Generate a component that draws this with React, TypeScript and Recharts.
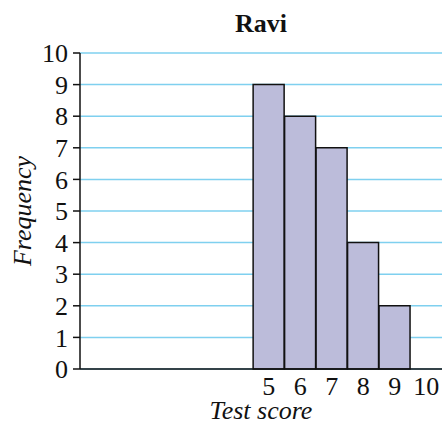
import { BarChart, Bar, XAxis, YAxis, CartesianGrid, Label } from 'recharts';

const scores = [5, 6, 7, 8, 9];
const frequencies = [9, 8, 7, 4, 2];
const xTicks = [5, 6, 7, 8, 9, 10];
const yTicks = [0, 1, 2, 3, 4, 5, 6, 7, 8, 9, 10];
const title = 'Ravi';
const xTitle = 'Test score';
const yTitle = 'Frequency';

const data = scores.map((score, i) => ({ score, frequency: frequencies[i] }));

const FONT = '"Liberation Serif", "Times New Roman", serif';
const tickStyle = { fontFamily: FONT, fontSize: 26, fill: '#111' };

function YLabel(props: any) {
  const vb = props.viewBox || {};
  const x = vb.x + 22;
  const y = vb.y + vb.height / 2;
  return (
    <text
      x={x}
      y={y}
      transform={`rotate(-90, ${x}, ${y})`}
      textAnchor="middle"
      dominantBaseline="central"
      fontFamily={FONT}
      fontSize={26}
      fontStyle="italic"
      fill="#111"
    >
      {yTitle}
    </text>
  );
}

function XLabel(props: any) {
  const vb = props.viewBox || {};
  return (
    <text
      x={vb.x + vb.width / 2}
      y={vb.y + 50}
      textAnchor="middle"
      fontFamily={FONT}
      fontSize={26}
      fontStyle="italic"
      fill="#111"
    >
      {xTitle}
    </text>
  );
}

export default function App() {
  return (
    <div style={{ position: 'relative', width: 442, height: 426, background: '#fff' }}>
      <style>{'body{margin:0}'}</style>
      <div
        style={{
          position: 'absolute',
          left: 80,
          width: 362,
          top: 9,
          textAlign: 'center',
          fontFamily: FONT,
          fontWeight: 'bold',
          fontSize: 26,
          lineHeight: 'normal',
          color: '#111',
        }}
      >
        {title}
      </div>
      <BarChart
        width={442}
        height={426}
        data={data}
        margin={{ top: 53, right: 0, left: 0, bottom: 0 }}
        barCategoryGap={0}
        barGap={0}
        style={{ overflow: 'visible' }}
      >
        <CartesianGrid horizontal vertical={false} stroke="#7fd0ef" strokeWidth={1.5} />
        <XAxis
          dataKey="score"
          type="number"
          domain={[-1, 10.5]}
          ticks={xTicks}
          interval={0}
          height={57}
          tickLine={false}
          tickSize={0}
          tickMargin={8}
          axisLine={{ stroke: '#111', strokeWidth: 1.5 }}
          tick={tickStyle}
        >
          <Label content={<XLabel />} />
        </XAxis>
        <YAxis
          type="number"
          domain={[0, 10]}
          ticks={yTicks}
          interval={0}
          width={80}
          tickSize={7}
          tickMargin={5}
          axisLine={{ stroke: '#111', strokeWidth: 1.5 }}
          tickLine={{ stroke: '#111', strokeWidth: 1.5 }}
          tick={tickStyle}
        >
          <Label content={<YLabel />} />
        </YAxis>
        <Bar
          dataKey="frequency"
          fill="#bcbcda"
          stroke="#111"
          strokeWidth={1.5}
          isAnimationActive={false}
        />
      </BarChart>
    </div>
  );
}
